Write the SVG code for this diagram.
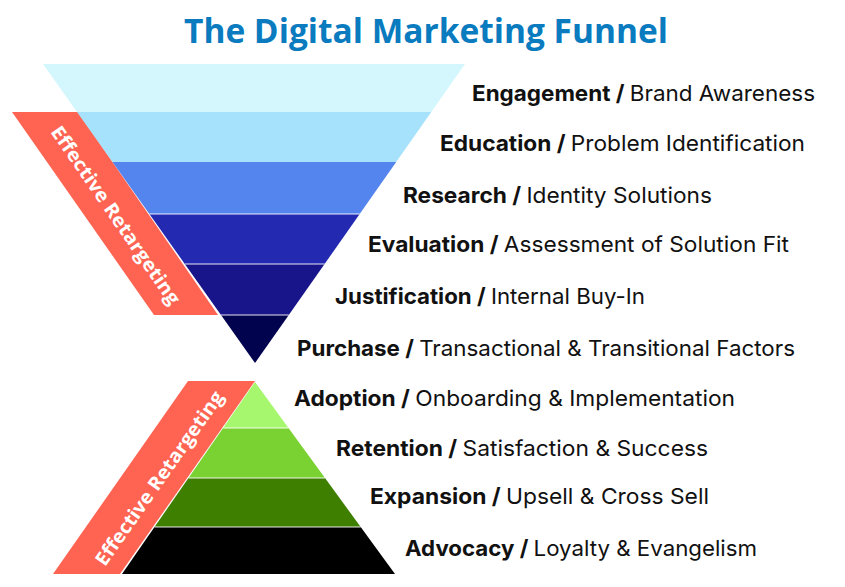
<svg xmlns="http://www.w3.org/2000/svg" width="845" height="587" viewBox="0 0 845 587">
<style>
.title{font-family:"Open Sans","Liberation Sans",sans-serif;font-weight:700;font-size:34px;fill:#0a7bbf}
.lbl{font-family:Inter,"Liberation Sans",sans-serif;font-size:22px;fill:#111}
.lbl .b{font-weight:700}
.ban{fill:#ff6453}
.bantxt{font-family:"Open Sans","Liberation Sans",sans-serif;font-weight:700;font-size:19px;fill:#fff}
.sep{stroke:#ffffff;stroke-opacity:0.6;stroke-width:1.5}
</style>
<rect width="845" height="587" fill="#fff"/>
<text class="title" x="426" y="43" text-anchor="middle" textLength="484" lengthAdjust="spacingAndGlyphs">The Digital Marketing Funnel</text>

<g id="banner-top">
<polygon class="ban" points="12,112 78,112 218,315 154,315"/>
<text class="bantxt" transform="translate(116,215) rotate(55.4)" text-anchor="middle" dominant-baseline="central" textLength="212" lengthAdjust="spacingAndGlyphs">Effective Retargeting</text>
</g>

<g id="funnel">
<polygon id="f1" points="43,64 465,64 431.3,112 77,112" fill="#d4f7fe"/>
<polygon id="f2" points="77,112 431.3,112 396.2,162 112.5,162" fill="#a6e2fc"/>
<polygon id="f3" points="112.5,162 396.2,162 359.7,214 149.4,214" fill="#5484ee"/>
<polygon id="f4" points="149.4,214 359.7,214 324.6,264 184.8,264" fill="#2329b1"/>
<polygon id="f5" points="184.8,264 324.6,264 288.8,315 221,315" fill="#18148a"/>
<polygon id="f6" points="221,315 288.8,315 255,363" fill="#02034f"/>
<line class="sep" x1="149.4" y1="214" x2="359.7" y2="214"/>
<line class="sep" x1="184.8" y1="264" x2="324.6" y2="264"/>
<line class="sep" x1="221" y1="315" x2="288.8" y2="315"/>
</g>

<g id="banner-bottom">
<polygon class="ban" points="188,381 255,381 120,574 53,574"/>
<text class="bantxt" transform="translate(159,478) rotate(-55)" text-anchor="middle" dominant-baseline="central" textLength="208" lengthAdjust="spacingAndGlyphs">Effective Retargeting</text>
</g>

<g id="pyramid">
<polygon id="p1" points="255,382 288.5,428 223.1,428" fill="#a6f76e"/>
<polygon id="p2" points="223.1,428 288.5,428 325,478 188.5,478" fill="#7ad232"/>
<polygon id="p3" points="188.5,478 325,478 360.7,527 154.5,527" fill="#3f7f00"/>
<polygon id="p4" points="154.5,527 360.7,527 395,574 122,574" fill="#000000"/>
<line class="sep" x1="223.1" y1="428" x2="288.5" y2="428"/>
<line class="sep" x1="188.5" y1="478" x2="325" y2="478"/>
<line class="sep" x1="154.5" y1="527" x2="360.7" y2="527"/>
</g>

<g id="labels">
<text id="l1" class="lbl" x="472" y="101" textLength="343" lengthAdjust="spacingAndGlyphs"><tspan class="b">Engagement / </tspan>Brand Awareness</text>
<text id="l2" class="lbl" x="440" y="151" textLength="365" lengthAdjust="spacingAndGlyphs"><tspan class="b">Education / </tspan>Problem Identification</text>
<text id="l3" class="lbl" x="403" y="203" textLength="309" lengthAdjust="spacingAndGlyphs"><tspan class="b">Research / </tspan>Identity Solutions</text>
<text id="l4" class="lbl" x="368" y="252" textLength="421" lengthAdjust="spacingAndGlyphs"><tspan class="b">Evaluation / </tspan>Assessment of Solution Fit</text>
<text id="l5" class="lbl" x="335" y="304" textLength="310" lengthAdjust="spacingAndGlyphs"><tspan class="b">Justification / </tspan>Internal Buy-In</text>
<text id="l6" class="lbl" x="297" y="356" textLength="498" lengthAdjust="spacingAndGlyphs"><tspan class="b">Purchase / </tspan>Transactional &amp; Transitional Factors</text>
<text id="l7" class="lbl" x="294" y="406" textLength="441" lengthAdjust="spacingAndGlyphs"><tspan class="b">Adoption / </tspan>Onboarding &amp; Implementation</text>
<text id="l8" class="lbl" x="336" y="456" textLength="372" lengthAdjust="spacingAndGlyphs"><tspan class="b">Retention / </tspan>Satisfaction &amp; Success</text>
<text id="l9" class="lbl" x="370" y="504" textLength="339" lengthAdjust="spacingAndGlyphs"><tspan class="b">Expansion / </tspan>Upsell &amp; Cross Sell</text>
<text id="l10" class="lbl" x="405" y="556" textLength="352" lengthAdjust="spacingAndGlyphs"><tspan class="b">Advocacy / </tspan>Loyalty &amp; Evangelism</text>
</g>
</svg>
